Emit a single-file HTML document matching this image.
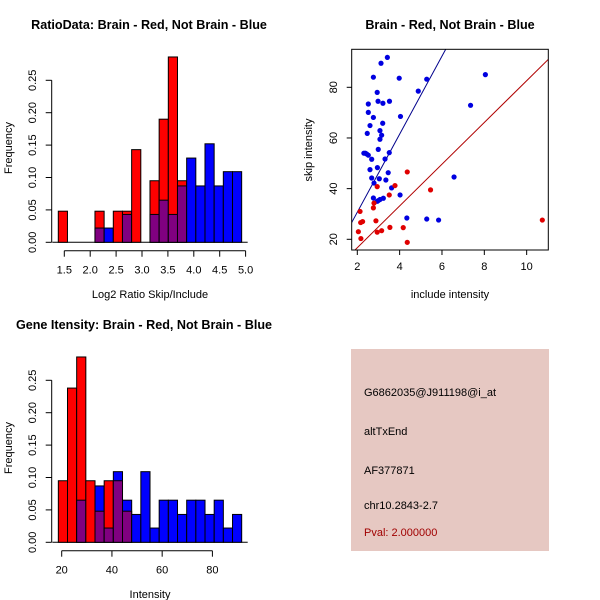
<!DOCTYPE html>
<html><head><meta charset="utf-8"><style>
body{margin:0;background:#fff}
svg{display:block;font-family:"Liberation Sans",sans-serif}
</style></head><body>
<svg id="s" width="600" height="600" xmlns="http://www.w3.org/2000/svg">
<rect x="0" y="0" width="600" height="600" fill="#fff"/>
<text x="149" y="29" text-anchor="middle" font-size="12.6" font-weight="bold">RatioData: Brain - Red, Not Brain - Blue</text>
<text x="450" y="29" text-anchor="middle" font-size="12.6" font-weight="bold">Brain - Red, Not Brain - Blue</text>
<text x="144" y="329" text-anchor="middle" font-size="12.6" font-weight="bold">Gene Itensity: Brain - Red, Not Brain - Blue</text>
<text x="150" y="298" text-anchor="middle" font-size="11">Log2 Ratio Skip/Include</text>
<text x="150" y="598" text-anchor="middle" font-size="11">Intensity</text>
<text x="450" y="298" text-anchor="middle" font-size="11">include intensity</text>
<text transform="translate(12,148) rotate(-90)" text-anchor="middle" font-size="11">Frequency</text>
<text transform="translate(12,448) rotate(-90)" text-anchor="middle" font-size="11">Frequency</text>
<text transform="translate(312,150) rotate(-90)" text-anchor="middle" font-size="11">skip intensity</text>
<g>
<rect x="351" y="349" width="198" height="202" fill="#e6c8c2"/>
<text x="364" y="396" font-size="11">G6862035@J911198@i_at</text>
<text x="364" y="435" font-size="11">altTxEnd</text>
<text x="364" y="474" font-size="11">AF377871</text>
<text x="364" y="509" font-size="11">chr10.2843-2.7</text>
<text x="364" y="536" font-size="11" fill="#a00000">Pval: 2.000000</text>
</g>
</svg>
<script>
// Ratio histogram data
const ratioBinStart = 1.384, ratioBinWidth = 0.177;
const ratioRed  = [0.048,0,0,0,0.048,0,0.048,0.048,0.143,0,0.095,0.19,0.286,0.095,0,0,0,0,0,0];
const ratioBlue = [0,0,0,0,0.022,0.022,0,0.043,0,0,0.043,0.065,0.043,0.087,0.13,0.087,0.152,0.087,0.109,0.109];
const ratioXTicks = [1.5,2.0,2.5,3.0,3.5,4.0,4.5,5.0];
const freqTicks = [0,0.05,0.10,0.15,0.20,0.25];
const freqTickLabels = ["0.00","0.05","0.10","0.15","0.20","0.25"];
// Gene intensity histogram data
const geneBinStart = 18.66, geneBinWidth = 3.65;
const geneRed  = [0.095,0.238,0.286,0.095,0.048,0.095,0.095,0.048,0,0,0,0,0,0,0,0,0,0,0,0];
const geneBlue = [0,0,0.065,0,0.087,0.022,0.109,0.065,0.043,0.109,0.022,0.065,0.065,0.043,0.065,0.065,0.043,0.065,0.022,0.043];
const geneXTicks = [20,40,60,80];
// Scatter data
const blueX = [3.42,3.12,2.76,3.98,5.28,2.94,4.88,8.05,2.52,2.98,3.21,3.52,7.35,2.52,2.76,4.04,2.6,3.2,2.47,3.07,3.15,3.07,2.99,2.31,2.44,2.52,2.68,3.31,3.51,2.6,2.95,3.46,2.68,3.04,3.35,6.57,2.79,3.62,4.02,2.76,2.99,3.07,3.23,2.94,4.34,5.28,5.84,2.38];
const blueY = [91.8,89.5,84,83.6,83.2,78,78.5,85,73.4,74.5,73.7,74.5,72.9,70.1,68.1,68.5,64.9,65.8,61.8,62.9,61.1,59.5,55.5,54,53.7,53.2,51.6,51.7,54.2,47.5,48.3,46.3,44.2,43.9,43.4,44.6,42.2,40.3,37.5,36.3,35.3,35.7,36.2,35,28.4,28,27.6,54];
const redX = [2.13,2.16,2.25,2.05,2.17,2.94,3.78,3.51,2.79,2.76,2.88,2.94,3.15,3.54,4.17,4.36,4.36,5.46,10.74];
const redY = [31,26.6,27,23,20.3,40.8,41.2,37.5,34.3,32.4,27.3,22.8,23.4,24.7,24.6,18.8,46.6,39.5,27.6];
const scatterXTicks = [2,4,6,8,10];
const scatterYTicks = [20,40,60,80];
const blueSlope = 15.4, blueIntercept = -0.1;
const redSlope = 8.24, redIntercept = 0.2;

const NS = "http://www.w3.org/2000/svg";
const svg = document.getElementById('s');
function mk(tag, attrs, parent){
  const e = document.createElementNS(NS, tag);
  for (const k in attrs) e.setAttribute(k, attrs[k]);
  (parent||svg).appendChild(e);
  return e;
}
function txt(x,y,s,anchor,rot){
  const t = mk('text',{x:x,y:y,'font-size':11,'text-anchor':anchor||'middle'});
  if(rot) t.setAttribute('transform','rotate(-90,'+x+','+y+')');
  t.textContent = s;
  return t;
}

function histogram(prefix, binStart, binW, red, blue, xTicks, xLabelFmt, xs, y0, yScale){
  const ys = v => y0 - v*yScale;
  const g = mk('g',{});
  
  
  const x0p = xs(binStart), x1p = xs(binStart + binW*red.length);
  const bl = mk('line',{x1:x0p-6,x2:x1p+6,y1:y0,y2:y0,stroke:'#000'},g);
  
  
  for(let i=0;i<red.length;i++){
    const a = binStart+i*binW, b = a+binW;
    const xa = xs(a), xb = xs(b);
    const r = red[i], bl2 = blue[i];
    const hi = Math.max(r,bl2), lo = Math.min(r,bl2);
    if(hi<=0) continue;
    const top = mk('rect',{x:xa,y:ys(hi),width:xb-xa,height:ys(0)-ys(hi),fill:r>=bl2?'#ff0000':'#0000ff',stroke:'#000','stroke-width':1},g);
    
    
    if(lo>0){
      const ov = mk('rect',{x:xa,y:ys(lo),width:xb-xa,height:ys(0)-ys(lo),fill:'#800080',stroke:'#000','stroke-width':1},g);
      
      
    }
  }
  const ax = 51.7;
  const ya = mk('g',{},g);
  
  
  mk('line',{x1:ax,x2:ax,y1:ys(freqTicks[0]),y2:ys(freqTicks[freqTicks.length-1]),stroke:'#000'},ya);
  freqTicks.forEach((v,i)=>{
    mk('line',{x1:ax-6,x2:ax,y1:ys(v),y2:ys(v),stroke:'#000'},ya);
    const t = txt(36,ys(v),freqTickLabels[i],'middle',true);
    ya.appendChild(t);
  });
  const axy = y0+8.4;
  const xa = mk('g',{},g);
  
  
  mk('line',{x1:xs(xTicks[0]),x2:xs(xTicks[xTicks.length-1]),y1:axy,y2:axy,stroke:'#000'},xa);
  xTicks.forEach(v=>{
    mk('line',{x1:xs(v),x2:xs(v),y1:axy,y2:axy+6,stroke:'#000'},xa);
    xa.appendChild(txt(xs(v),axy+23,xLabelFmt(v)));
  });
}

histogram('ratio', ratioBinStart, ratioBinWidth, ratioRed, ratioBlue, ratioXTicks,
  v=>v.toFixed(1), v=>64.3+(v-1.5)*51.8, 242.3, 648);
histogram('gene', geneBinStart, geneBinWidth, geneRed, geneBlue, geneXTicks,
  v=>String(v), v=>61.7+(v-20)*2.5117, 542.3, 648);

(function(){
  const xs = v => 357.3 + (v-2)*21.17;
  const ys = v => 239.3 - (v-20)*2.5333;
  const L=351.7,R=548.3,T=49.3,B=250;
  const g = mk('g',{});
  
  
  const cp = mk('clipPath',{id:'cp'},g);
  mk('rect',{x:L,y:T,width:R-L,height:B-T},cp);
  const x0 = 1.7, x1 = 11.1;
  const bln = mk('line',{x1:xs(x0),y1:ys(blueSlope*x0+blueIntercept),x2:xs(x1),y2:ys(blueSlope*x1+blueIntercept),stroke:'#00008b','clip-path':'url(#cp)'},g);
  
  
  const rln = mk('line',{x1:xs(x0),y1:ys(redSlope*x0+redIntercept),x2:xs(x1),y2:ys(redSlope*x1+redIntercept),stroke:'#b00000','clip-path':'url(#cp)'},g);
  
  
  blueX.forEach((v,i)=>{
    const c = mk('circle',{cx:xs(v),cy:ys(blueY[i]),r:2.6,fill:'#0000e0'},g);
    
    
  });
  redX.forEach((v,i)=>{
    const c = mk('circle',{cx:xs(v),cy:ys(redY[i]),r:2.6,fill:'#e00000'},g);
    
    
  });
  const box = mk('rect',{x:L,y:T,width:R-L,height:B-T,fill:'none',stroke:'#000'},g);
  
  
  const xa = mk('g',{},g);
  
  
  scatterXTicks.forEach(v=>{
    mk('line',{x1:xs(v),x2:xs(v),y1:B,y2:B+5,stroke:'#000'},xa);
    xa.appendChild(txt(xs(v),B+20,String(v)));
  });
  const ya = mk('g',{},g);
  
  
  scatterYTicks.forEach(v=>{
    mk('line',{x1:L-5,x2:L,y1:ys(v),y2:ys(v),stroke:'#000'},ya);
    ya.appendChild(txt(337,ys(v),String(v),'middle',true));
  });
})();
</script>
</body></html>
